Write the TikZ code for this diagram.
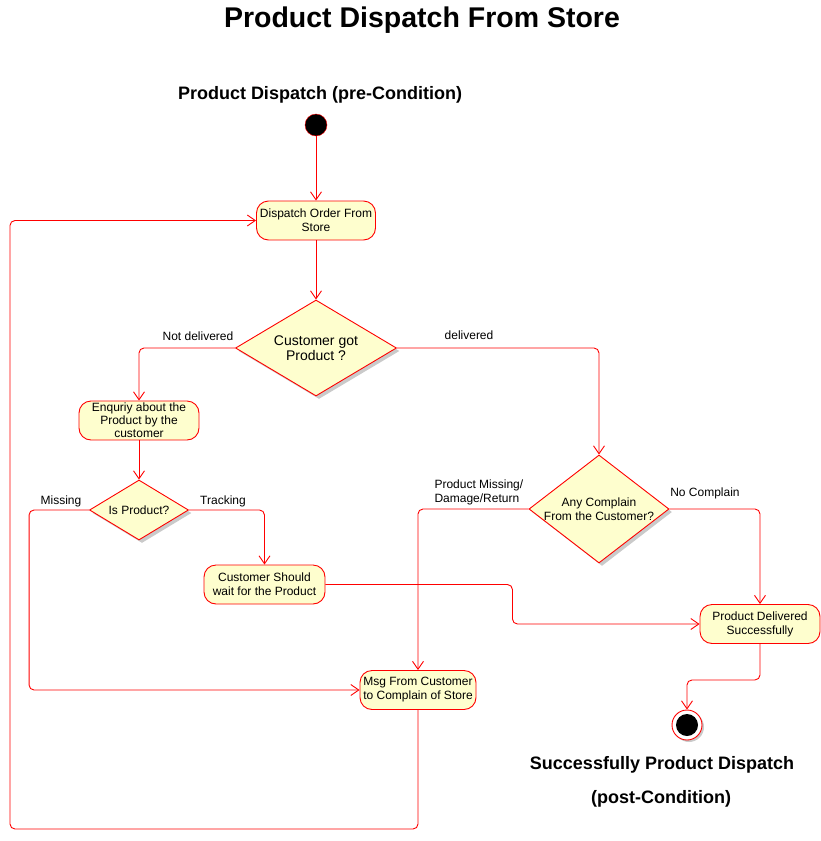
\documentclass[tikz,border=0pt]{standalone}
\usepackage{fontspec}
\setmainfont{Liberation Sans}
\usetikzlibrary{shapes.geometric,arrows.meta,shadows}
\definecolor{umlred}{HTML}{FF0000}
\definecolor{umlfill}{HTML}{FEFECE}

\begin{document}
\begin{tikzpicture}[x=1pt, y=-1pt,
  action/.style={draw=umlred, line width=0.9pt, fill=umlfill, rounded corners=12pt, minimum width=119pt, minimum height=39pt, inner sep=0pt, align=center, font=\fontsize{12}{14}\selectfont},
  choice/.style={diamond, draw=umlred, line width=0.9pt, fill=umlfill, inner sep=0pt, drop shadow={shadow xshift=3pt, shadow yshift=-3pt, fill=black!35, opacity=0.6}},
  flow/.style={draw=umlred, line width=0.9pt, rounded corners=5pt, -{Straight Barb[length=8pt, width=11pt]}},
  lbl/.style={font=\fontsize{12}{14}\selectfont, align=center},
  heading/.style={font=\bfseries\fontsize{18}{22}\selectfont}]
\useasboundingbox (0,0) rectangle (820,841);

\node[font=\bfseries\fontsize{28.5}{32}\selectfont] (title) at (422,20) {Product Dispatch From Store};
\node[heading] (pre) at (320,94.5) {Product Dispatch (pre-Condition)};

\node[circle, draw=umlred, fill=black, minimum size=22pt, inner sep=0pt] (start) at (316,125) {};
\node[action] (dispatch) at (316,220.5) {Dispatch Order From\\Store};
\node[choice, minimum width=161pt, minimum height=96pt, label={[lbl, font=\fontsize{14}{14.5}\selectfont]center:{Customer got\\Product ?}}] (got) at (316,348) {};

\node[action, minimum width=120pt, font=\fontsize{12}{13}\selectfont] (enquiry) at (139,420.5) {Enquriy about the\\Product by the\\customer};
\node[choice, minimum width=99pt, minimum height=60pt, label={[lbl]center:Is Product?}] (ispro) at (139,510) {};
\node[action, minimum width=121pt] (wait) at (264.5,584.5) {Customer Should\\wait for the Product};

\node[choice, minimum width=140pt, minimum height=108pt, label={[lbl]center:{Any Complain\\From the Customer?}}] (complain) at (599,509) {};
\node[action, minimum width=120pt] (delivered) at (760,624) {Product Delivered\\Successfully};
\node[action, minimum width=116pt] (msg) at (418,690) {Msg From Customer\\to Complain of Store};

\node[circle, draw=umlred, line width=0.9pt, fill=white, minimum size=30pt, inner sep=0pt, drop shadow={shadow xshift=2pt, shadow yshift=-2pt, fill=black!35, opacity=0.6}, path picture={\fill[black] (path picture bounding box.center) circle (11pt);}] (stop) at (687,725) {};
\node[heading] (post) at (662,764.5) {Successfully Product Dispatch};
\node[heading] (postcond) at (661,798.5) {(post-Condition)};

% guard labels
\node[lbl] (notdel) at (198,336) {Not delivered};
\node[lbl] (del) at (469,335) {delivered};
\node[lbl] (miss) at (61,501) {Missing};
\node[lbl] (track) at (223,501) {Tracking};
\node[lbl, align=left, anchor=west] (damage) at (431,492) {Product Missing/\\Damage/Return};
\node[lbl] (nocomp) at (705,493) {No Complain};

\coordinate (back) at (10,829);

\draw[flow] (start) -- (dispatch);
\draw[flow] (dispatch) -- (got);
\draw[flow] (got.west) -| (enquiry.north);
\draw[flow] (got.east) -| (complain.north);
\draw[flow] (enquiry) -- (ispro);
\draw[flow] (ispro.west) -- ++(-60,0) |- (msg.west);
\draw[flow] (ispro.east) -| (wait.north);
\draw[flow] (wait.east) -- ++(187,0) |- (delivered.west);
\draw[flow] (complain.west) -| (msg.north);
\draw[flow] (complain.east) -| (delivered.north);
\draw[flow] (delivered.south) -- ++(0,36) -| (stop.north);
\draw[flow] (msg.south) |- (back) |- (dispatch.west);

\end{tikzpicture}
\end{document}
